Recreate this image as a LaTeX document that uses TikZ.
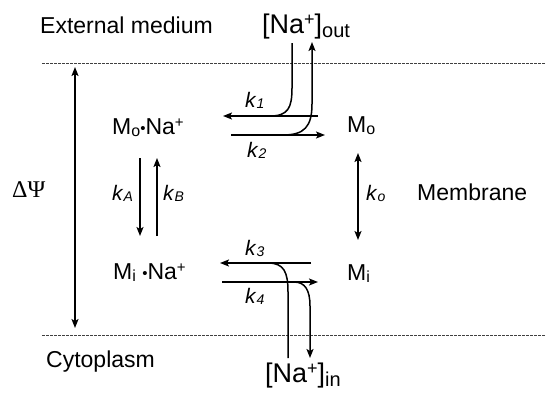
\documentclass[tikz,border=0pt]{standalone}
\usepackage{fontspec}
\setmainfont{Liberation Sans}
\newfontfamily\serifgr{Liberation Serif}
\usetikzlibrary{arrows.meta}
\newcommand\sbs[1]{\raisebox{-2pt}{\fontsize{16}{16}\selectfont #1}}
\newcommand\sps[1]{\raisebox{7pt}{\fontsize{15}{15}\selectfont #1}}
\newcommand\bsps[1]{\raisebox{8pt}{\fontsize{18}{18}\selectfont #1}}
\newcommand\bigsub[1]{\raisebox{-4pt}{\fontsize{20}{20}\selectfont #1}}
\newcommand\dotm{\raisebox{1pt}{\fontsize{15}{15}\selectfont •}}
\newcommand\kk[1]{\textit{k}\raisebox{-1pt}{\fontsize{14}{14}\selectfont\textit{#1}}}
\begin{document}
\begin{tikzpicture}[x=1pt,y=-1pt,
  lbl/.style={anchor=base west,inner sep=0pt,font=\fontsize{23}{27}\selectfont},
  ionlbl/.style={anchor=base west,inner sep=0pt,font=\fontsize{27}{30}\selectfont},
  klbl/.style={anchor=base west,inner sep=0pt,font=\fontsize{21}{24}\selectfont},
  conn/.style={line width=1.5pt},
  arr/.style={conn,-{Stealth[length=9pt,width=7pt,inset=2pt]}},
  darr/.style={conn,{Stealth[length=9pt,width=7pt,inset=2pt]}-{Stealth[length=9pt,width=7pt,inset=2pt]}},
  dashedline/.style={line width=1pt,dash pattern=on 2.5pt off 1.5pt,black!75}]
\useasboundingbox[fill=white] (0,0) rectangle (546,392);

% texts
\node[lbl] (ext) at (40,33) {External medium};
\node[ionlbl] (naout) at (262,33) {[Na\bsps{+}]\bigsub{out}};
\node[lbl] (cyto) at (46,367) {Cytoplasm};
\node[ionlbl] (nain) at (265,382) {[Na\bsps{+}]\bigsub{in}};
\node[lbl] (mem) at (417,200) {Membrane};
\node[lbl,font=\serifgr\fontsize{24}{28}\selectfont] (psi) at (12,197) {ΔΨ};

% species
\node[lbl] (MoNa) at (112,134) {M\sbs{o}\dotm Na\sps{+}};
\node[lbl] (Mo) at (347,132) {M\sbs{o}};
\node[lbl] (MiNa) at (113,279) {M\sbs{i} \dotm Na\sps{+}};
\node[lbl] (Mi) at (347,280) {M\sbs{i}};

% rate labels
\node[klbl] (k1) at (245,107) {\kk{1}};
\node[klbl] (k2) at (247,157) {\kk{2}};
\node[klbl] (k3) at (245,255) {\kk{3}};
\node[klbl] (k4) at (245,303) {\kk{4}};
\node[klbl] (kA) at (112,200) {\kk{A}};
\node[klbl] (kB) at (163,200) {\kk{B}};
\node[klbl] (ko) at (366,200) {\kk{o}};

% dashed membrane borders
\coordinate (dl1) at (42,63);  \coordinate (dr1) at (546,63);
\coordinate (dl2) at (42,335); \coordinate (dr2) at (546,335);
\draw[dashedline] (dl1) -- (dr1);
\draw[dashedline] (dl2) -- (dr2);

% potential arrow
\coordinate (psiT) at (75,67); \coordinate (psiB) at (75,328);
\draw[darr] (psiT) -- (psiB);

% top exchange
\coordinate (k1s) at (318,116); \coordinate (k1e) at (223,116);
\coordinate (k2s) at (231,135); \coordinate (k2e) at (325,135);
\draw[arr] (k1s) -- (k1e);
\draw[arr] (k2s) -- (k2e);
\coordinate (inTop) at (292,43);
\coordinate (outTop) at (312,42);
\draw[conn] (inTop) -- (292,88) .. controls (292,108) and (288,116) .. (270,116);
\draw[arr] (283,135) .. controls (304,135) and (312,127) .. (312,104) -- (outTop);

% bottom exchange
\coordinate (k3s) at (311,263); \coordinate (k3e) at (220,263);
\coordinate (k4s) at (222,282); \coordinate (k4e) at (318,282);
\draw[arr] (k3s) -- (k3e);
\draw[arr] (k4s) -- (k4e);
\coordinate (inBot) at (288,358);
\coordinate (outBot) at (310,358);
\draw[conn] (inBot) -- (288,292) .. controls (288,272) and (284,263) .. (268,263);
\draw[arr] (294,282) .. controls (305,282) and (310,290) .. (310,306) -- (outBot);

% vertical transitions
\coordinate (kAs) at (140,158); \coordinate (kAe) at (140,236);
\coordinate (kBs) at (157,236); \coordinate (kBe) at (157,158);
\draw[arr] (kAs) -- (kAe);
\draw[arr] (kBs) -- (kBe);
\coordinate (koT) at (358,153); \coordinate (koB) at (358,240);
\draw[darr] (koT) -- (koB);
\end{tikzpicture}
\end{document}
